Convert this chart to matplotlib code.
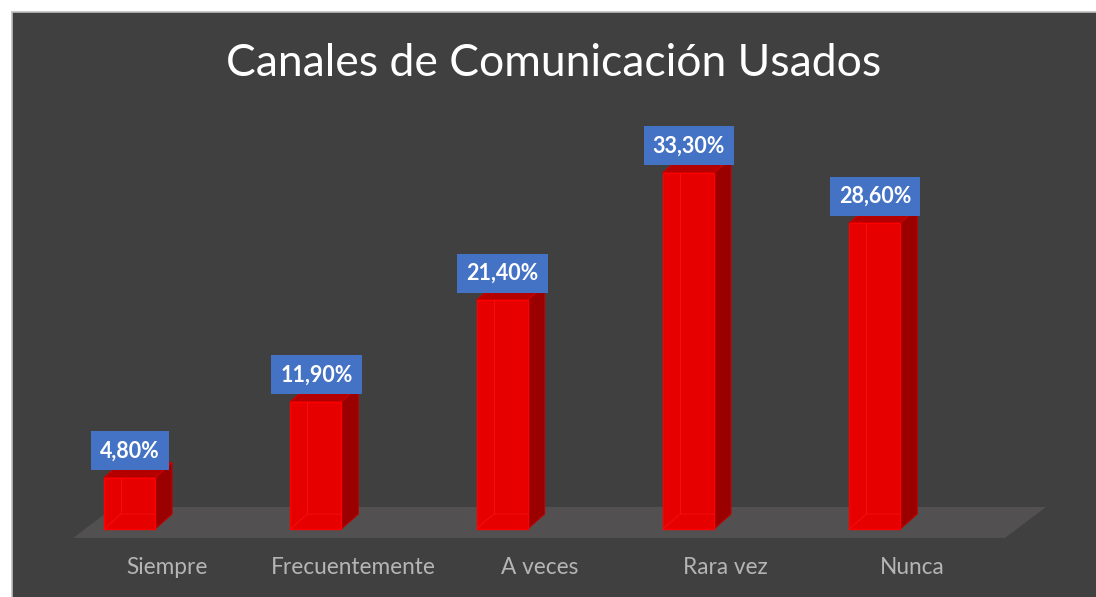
import matplotlib
matplotlib.use("Agg")
import matplotlib.pyplot as plt
from matplotlib.patches import Rectangle, Polygon

categories = ["Siempre", "Frecuentemente", "A veces", "Rara vez", "Nunca"]
values = [4.8, 11.9, 21.4, 33.3, 28.6]
labels = ["4,80%", "11,90%", "21,40%", "33,30%", "28,60%"]
title = "Canales de Comunicación Usados"

W, H = 1096, 597
fig = plt.figure(figsize=(W / 100, H / 100), dpi=100)
fig.patch.set_facecolor("white")
# chart area background (extends past right/bottom edges)
fig.patches.append(Rectangle((12 / W, -0.05), 1.1, 1.05 - 12 / H, transform=fig.transFigure,
                             facecolor="#404040", edgecolor="#bfbfbf", linewidth=1.2, zorder=-5))

ax = fig.add_axes([0, 0, 1, 1])
ax.set_xlim(-0.6951, 5.1879)
ax.set_ylim(-6.355, 49.44)
ax.axis("off")
ax.patch.set_alpha(0)

fam = ["Lato", "DejaVu Sans"]

w = 0.274
dx, dy = 0.0913, 1.4

# floor
n = len(categories)
floor = Polygon([(-0.303, -0.84), (n - 1 + 0.699, -0.84), (n - 1 + 0.92, 2.06), (-0.083, 2.06)],
                closed=True, facecolor="#525050", edgecolor="none", zorder=1)
ax.add_patch(floor)

for i, (v, lab, cat) in enumerate(zip(values, labels, categories)):
    x0, x1 = i - w / 2, i + w / 2
    # side
    ax.add_patch(Polygon([(x1, 0), (x1 + dx, dy), (x1 + dx, v + dy), (x1, v)], closed=True,
                         facecolor="#9a0000", edgecolor="#c00000", linewidth=0.8, zorder=3))
    # top
    ax.add_patch(Polygon([(x0, v), (x1, v), (x1 + dx, v + dy), (x0 + dx, v + dy)], closed=True,
                         facecolor="#b40000", edgecolor="#d00000", linewidth=0.8, zorder=3))
    # front
    ax.add_patch(Rectangle((x0, 0), w, v, facecolor="#e60000", edgecolor="#ff0000",
                           linewidth=1.0, zorder=4))
    # hidden back edges seen through
    ax.plot([x0 + dx, x0 + dx], [dy, v], color="#f51010", lw=0.7, zorder=5)
    ax.plot([x0, x0 + dx, x1], [0, dy, dy], color="#f51010", lw=0.7, zorder=5)
    # data label
    ax.text(i + 0.003, v + 2.5, lab, ha="center", va="center", color="white",
            fontsize=15.5, fontweight="bold", family=fam, zorder=6,
            bbox=dict(boxstyle="square,pad=0.42", facecolor="#4472c4", edgecolor="none"))
    # category label
    ax.text(i + 0.2, -3.64, cat, ha="center", va="center", color="#b5b5b5",
            fontsize=16.3, family=fam, zorder=6)

ax.text(0.505, 1 - 63 / H, title, transform=ax.transAxes, ha="center", va="center",
        color="white", fontsize=32, family=fam, zorder=6)

fig.savefig("out.png", dpi=100, facecolor=fig.get_facecolor())
